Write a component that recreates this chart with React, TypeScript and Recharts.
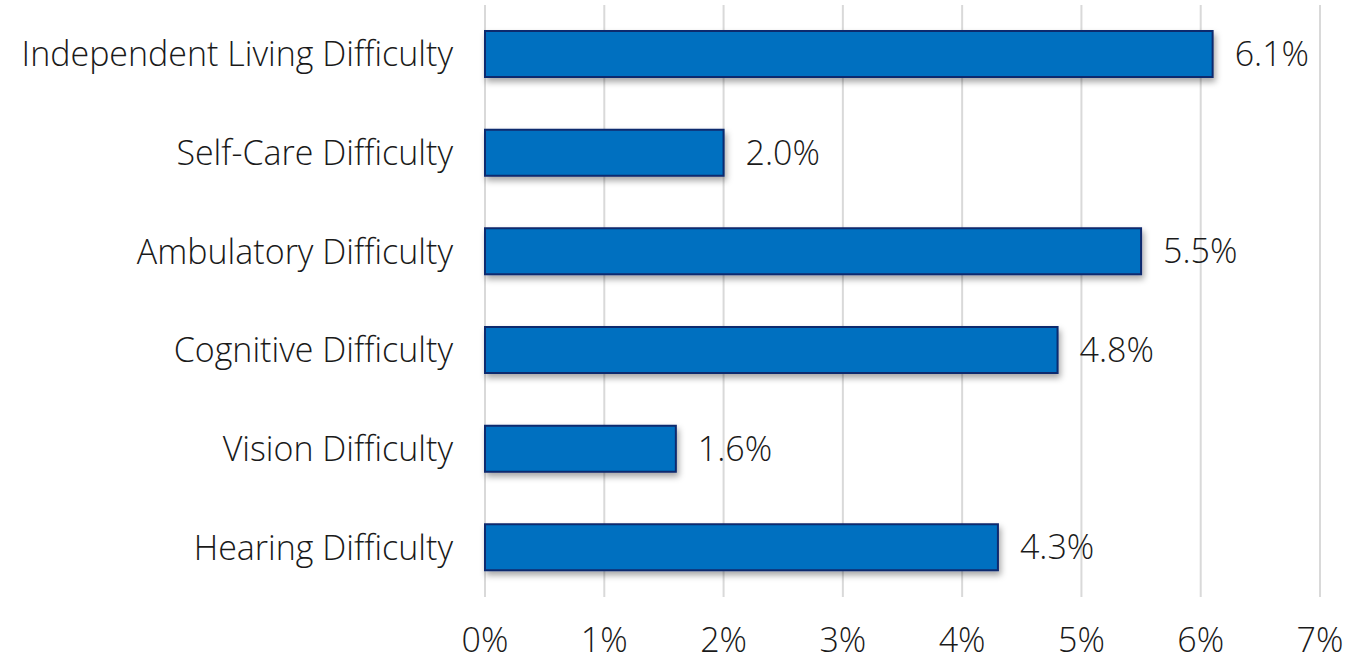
import React from "react";
import { BarChart, Bar, XAxis, YAxis, CartesianGrid, LabelList } from "recharts";

// Share of population with each difficulty type (percent)
const categories = [
  "Independent Living Difficulty",
  "Self-Care Difficulty",
  "Ambulatory Difficulty",
  "Cognitive Difficulty",
  "Vision Difficulty",
  "Hearing Difficulty",
];
const values = [6.1, 2.0, 5.5, 4.8, 1.6, 4.3];
const xTicks = [0, 1, 2, 3, 4, 5, 6, 7];

const data = categories.map((name, i) => ({ name, value: values[i] }));

const font = "'Open Sans', Lato, sans-serif";
const textStyle = { fill: "#1a1a1a", fontSize: 34, fontFamily: font, fontWeight: 300 };

export default function App() {
  return (
    <div style={{ position: "absolute", left: 0, top: 0, fontFamily: font }}>
      <BarChart
        width={1345}
        height={662}
        data={data}
        layout="vertical"
        margin={{ top: 5, right: 25, bottom: 15, left: 0 }}
      >
        <defs>
          <filter id="barShadow" x="-5%" y="-30%" width="110%" height="180%">
            <feDropShadow dx="2" dy="4" stdDeviation="3" floodColor="#000" floodOpacity="0.35" />
          </filter>
        </defs>
        <CartesianGrid horizontal={false} stroke="#d9d9d9" strokeWidth={2} />
        <XAxis
          type="number"
          domain={[0, 7]}
          ticks={xTicks}
          tickFormatter={(v) => `${v}%`}
          axisLine={false}
          tickLine={false}
          height={50}
          tickMargin={25}
          tick={textStyle}
        />
        <YAxis
          type="category"
          dataKey="name"
          width={485}
          axisLine={false}
          tickLine={false}
          tickMargin={26}
          tick={textStyle}
        />
        <Bar
          dataKey="value"
          fill="#0070C0"
          stroke="#0b2a6e"
          strokeWidth={2}
          barSize={46}
          filter="url(#barShadow)"
          isAnimationActive={false}
        >
          <LabelList
            dataKey="value"
            position="right"
            offset={22}
            formatter={(v: number) => `${v.toFixed(1)}%`}
            style={textStyle}
          />
        </Bar>
      </BarChart>
    </div>
  );
}
